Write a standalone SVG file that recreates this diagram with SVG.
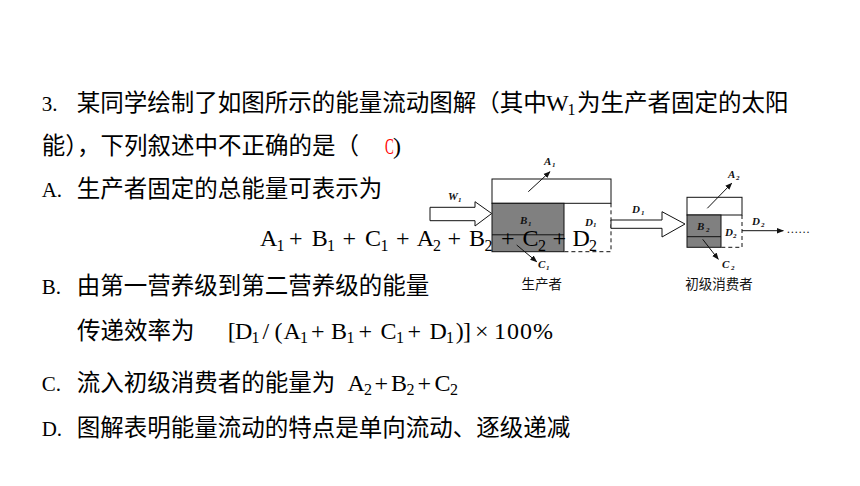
<svg xmlns="http://www.w3.org/2000/svg" width="860" height="486" viewBox="0 0 860 486">
<defs>
<marker id="ah" viewBox="0 0 10 10" refX="9" refY="5" markerWidth="7" markerHeight="7" markerUnits="userSpaceOnUse" orient="auto"><path d="M0,1 L10,5 L0,9 Z" fill="#111"/></marker>
</defs>
<style>
.cjk{font-family:"Noto Sans CJK SC","Noto Sans",sans-serif;font-size:23.5px;fill:#000}
.lat{font-family:"Liberation Serif",serif;font-size:21px;fill:#000}
.m{font-family:"Liberation Serif",serif;font-size:24px;fill:#000}
.s{font-family:"Liberation Serif",serif;font-size:16px}
.lb{font-family:"Liberation Serif",serif;font-size:11px;font-style:italic;font-weight:bold;fill:#111}
.ls{font-size:7px}
.cap{font-family:"Noto Sans CJK SC",sans-serif;font-size:13.5px;fill:#111;text-anchor:middle}
.box{fill:#fff;stroke:#111;stroke-width:1}
.grey{fill:#808080;stroke:#111;stroke-width:1}
.dash{fill:none;stroke:#111;stroke-width:1;stroke-dasharray:4 3}
.ln{stroke:#111;stroke-width:1;fill:none}
.arr{stroke:#111;stroke-width:1;fill:none;marker-end:url(#ah)}
.fat{fill:#fff;stroke:#111;stroke-width:1}
</style>
<rect width="860" height="486" fill="#fff"/>

<g id="producer">
<rect class="box" x="492" y="179" width="119" height="24.3"/>
<rect class="grey" x="492" y="203.3" width="72" height="48.4"/>
<line class="ln" x1="492" y1="234.8" x2="564" y2="234.8"/>
<path class="dash" d="M611,203.3 V251.7 H564"/>
<text class="lb" x="520" y="224">B<tspan class="ls" x="528" y="226">1</tspan></text>
<text class="lb" x="585" y="226">D<tspan class="ls" x="593" y="227">1</tspan></text>
<text class="cap" x="541.7" y="289">生产者</text>
</g>

<g id="consumer">
<rect class="box" x="687" y="197.3" width="55" height="17.7"/>
<rect class="grey" x="687" y="215" width="34" height="32.3"/>
<line class="ln" x1="687" y1="236.7" x2="721" y2="236.7"/>
<path class="dash" d="M742,215 V247.3 H721"/>
<text class="lb" x="697" y="230">B<tspan class="ls" x="706" y="232">2</tspan></text>
<text class="lb" x="725" y="236">D<tspan class="ls" x="733" y="238">2</tspan></text>
<text class="cap" x="719" y="289">初级消费者</text>
</g>

<g id="connectors">
<polygon class="fat" points="430,207.3 475,207.3 475,201.7 491.7,213.5 475,226 475,220.7 430,220.7"/>
<polygon class="fat" points="611,220 662,220 662,211.7 685,224 662,237 662,228.3 611,228.3"/>
<line class="arr" x1="528.3" y1="191.7" x2="550" y2="171.7"/>
<line class="arr" x1="516.7" y1="245" x2="536.7" y2="261.7"/>
<line class="arr" x1="707.3" y1="208.3" x2="731.7" y2="183.3"/>
<line class="arr" x1="702.7" y1="239.3" x2="718.3" y2="259.3"/>
<line class="arr" x1="742" y1="230.7" x2="783.3" y2="230.7"/>
</g>

<g id="flow-labels">
<text class="lb" x="448" y="200">W<tspan class="ls" x="458" y="202">1</tspan></text>
<text class="lb" x="544" y="165">A<tspan class="ls" x="552" y="167">1</tspan></text>
<text class="lb" x="538" y="268">C<tspan class="ls" x="546" y="270">1</tspan></text>
<text class="lb" x="632" y="213">D<tspan class="ls" x="641" y="215">1</tspan></text>
<text class="lb" x="728" y="178">A<tspan class="ls" x="736" y="180">2</tspan></text>
<text class="lb" x="722" y="268">C<tspan class="ls" x="731" y="270">2</tspan></text>
<text class="lb" x="752" y="225">D<tspan class="ls" x="761" y="227">2</tspan></text>
<text x="786.5" y="233" style="font-family:'Liberation Serif',serif;font-size:11.7px;fill:#111">……</text>
</g>

<g id="question">
<text class="lat" x="41.7" y="110.5">3.</text>
<text class="cjk" x="76.7" y="110.5">某同学绘制了如图所示的能量流动图解（其中</text>
<text class="m"><tspan x="546" y="110.5">W</tspan><tspan class="s" x="567.5" y="115">1</tspan></text>
<text class="cjk" x="577" y="110.5">为生产者固定的太阳</text>
<text class="cjk" x="41.7" y="153.5">能），下列叙述中不正确的是（</text>
<text transform="translate(385 154) scale(0.55 1)" style="font-family:'Liberation Serif',serif;font-size:24px;fill:#ff0000">C</text>
<text class="m" x="393" y="154">)</text>

<text class="lat" x="41.7" y="197">A.</text>
<text class="cjk" x="76.7" y="197">生产者固定的总能量可表示为</text>
<text class="m"><tspan x="260" y="246">A</tspan><tspan class="s" x="276.5" y="250.5">1</tspan><tspan x="289" y="246">+</tspan><tspan x="311.7" y="246">B</tspan><tspan class="s" x="327" y="250.5">1</tspan><tspan x="342.5" y="246">+</tspan><tspan x="365" y="246">C</tspan><tspan class="s" x="380.5" y="250.5">1</tspan><tspan x="396" y="246">+</tspan><tspan x="416.7" y="246">A</tspan><tspan class="s" x="433" y="250.5">2</tspan><tspan x="447.5" y="246">+</tspan><tspan x="469" y="246">B</tspan><tspan class="s" x="484.5" y="250.5">2</tspan><tspan x="501" y="246">+</tspan><tspan x="522.5" y="246">C</tspan><tspan class="s" x="538" y="250.5">2</tspan><tspan x="552.5" y="246">+</tspan><tspan x="572.5" y="246">D</tspan><tspan class="s" x="589" y="250.5">2</tspan></text>

<text class="lat" x="41.7" y="293.5">B.</text>
<text class="cjk" x="76.7" y="293.5">由第一营养级到第二营养级的能量</text>
<text class="cjk" x="77" y="338.5">传递效率为</text>
<text class="m"><tspan x="227.8" y="338.5">[</tspan><tspan x="235" y="338.5">D</tspan><tspan class="s" x="251.5" y="343">1</tspan><tspan x="262.4" y="338.5">/</tspan><tspan x="274.5" y="338.5">(</tspan><tspan x="283.5" y="338.5">A</tspan><tspan class="s" x="300" y="343">1</tspan><tspan x="311" y="338.5">+</tspan><tspan x="331" y="338.5">B</tspan><tspan class="s" x="346.5" y="343">1</tspan><tspan x="358.5" y="338.5">+</tspan><tspan x="380.5" y="338.5">C</tspan><tspan class="s" x="396" y="343">1</tspan><tspan x="407.5" y="338.5">+</tspan><tspan x="429.5" y="338.5">D</tspan><tspan class="s" x="446" y="343">1</tspan><tspan x="455.7" y="338.5">)</tspan><tspan x="463" y="338.5">]</tspan><tspan x="475" y="338.5">×</tspan><tspan x="494" y="338.5">1</tspan><tspan x="507" y="338.5">0</tspan><tspan x="520" y="338.5">0</tspan><tspan x="533" y="338.5">%</tspan></text>

<text class="lat" x="41.7" y="390.5">C.</text>
<text class="cjk" x="76.7" y="390.5">流入初级消费者的能量为</text>
<text class="m"><tspan x="347.5" y="390.5">A</tspan><tspan class="s" x="364" y="395">2</tspan><tspan x="374.5" y="390.5">+</tspan><tspan x="391" y="390.5">B</tspan><tspan class="s" x="406.5" y="395">2</tspan><tspan x="417.5" y="390.5">+</tspan><tspan x="434.5" y="390.5">C</tspan><tspan class="s" x="450" y="395">2</tspan></text>

<text class="lat" x="41.7" y="435.5">D.</text>
<text class="cjk" x="76.7" y="435.5">图解表明能量流动的特点是单向流动、逐级递减</text>
</g>
</svg>
